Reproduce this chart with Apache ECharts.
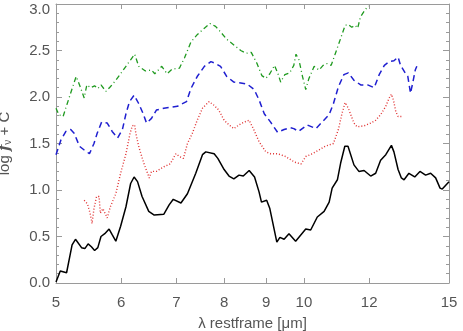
<!DOCTYPE html>
<html>
<head>
<meta charset="utf-8">
<script src="https://cdn.jsdelivr.net/npm/echarts@6/dist/echarts.min.js"></script>
<style>
  html, body { margin: 0; padding: 0; background: #fff; }
  #chart { width: 463px; height: 331px; }
</style>
</head>
<body>
<div id="chart"></div>
<script>
// tick labels
const xTicks = [5, 6, 7, 8, 9, 10, 12, 15];

// solid black
const blackLam = [5.00,5.06,5.15,5.23,5.28,5.37,5.42,5.47,5.52,5.57,5.62,5.67,5.73,5.80,5.85,5.91,5.99,6.08,6.16,6.22,6.28,6.36,6.48,6.58,6.76,6.86,6.94,7.09,7.22,7.39,7.53,7.60,7.78,7.86,8.00,8.11,8.22,8.34,8.44,8.58,8.71,8.82,8.88,9.01,9.09,9.27,9.35,9.46,9.59,9.77,9.82,10.05,10.19,10.38,10.58,10.73,10.82,10.98,11.08,11.21,11.31,11.50,11.66,11.83,12.05,12.22,12.39,12.57,12.77,12.86,13.01,13.13,13.23,13.41,13.63,13.83,14.05,14.25,14.45,14.63,14.72,15.00];
const blackVal = [0.01,0.13,0.11,0.41,0.47,0.38,0.37,0.42,0.39,0.35,0.38,0.50,0.53,0.58,0.52,0.45,0.61,0.82,1.07,1.14,1.09,0.93,0.77,0.73,0.74,0.84,0.90,0.86,0.96,1.18,1.38,1.41,1.39,1.34,1.22,1.15,1.12,1.16,1.15,1.21,1.14,0.98,0.87,0.89,0.80,0.44,0.49,0.47,0.53,0.45,0.46,0.58,0.57,0.71,0.77,0.87,1.02,1.11,1.29,1.47,1.47,1.27,1.20,1.21,1.15,1.18,1.32,1.38,1.48,1.41,1.22,1.13,1.11,1.18,1.14,1.20,1.16,1.18,1.13,1.02,1.01,1.09];

// dotted red
const redLam = [5.41,5.46,5.50,5.53,5.56,5.60,5.64,5.66,5.70,5.77,5.82,5.91,5.99,6.08,6.15,6.19,6.23,6.25,6.30,6.39,6.49,6.53,6.62,6.76,6.88,6.99,7.06,7.14,7.22,7.32,7.42,7.53,7.67,7.78,7.88,8.00,8.11,8.22,8.34,8.46,8.58,8.69,8.82,8.99,9.11,9.29,9.50,9.74,9.92,10.05,10.24,10.43,10.61,10.86,11.01,11.12,11.22,11.32,11.50,11.60,11.83,12.05,12.22,12.39,12.57,12.69,12.77,12.84,12.93,13.01,13.13];
const redVal = [0.89,0.85,0.75,0.64,0.80,0.93,0.93,0.75,0.80,0.70,0.82,0.96,1.18,1.39,1.61,1.69,1.70,1.61,1.47,1.29,1.13,1.20,1.20,1.25,1.28,1.39,1.36,1.34,1.50,1.61,1.75,1.88,1.95,1.91,1.86,1.75,1.70,1.66,1.70,1.73,1.75,1.65,1.52,1.41,1.39,1.39,1.36,1.30,1.28,1.36,1.39,1.43,1.47,1.50,1.65,1.82,1.94,1.88,1.72,1.68,1.69,1.72,1.75,1.81,1.90,1.99,2.03,1.97,1.84,1.79,1.79];

// dashed blue
const blueLam = [5.00,5.07,5.14,5.21,5.26,5.34,5.41,5.49,5.56,5.61,5.68,5.77,5.85,5.94,6.02,6.08,6.14,6.22,6.30,6.38,6.44,6.53,6.62,6.76,6.89,7.02,7.20,7.29,7.42,7.57,7.71,7.81,7.92,8.06,8.22,8.38,8.53,8.70,8.82,8.95,9.11,9.29,9.46,9.63,9.72,9.85,10.09,10.34,10.52,10.73,10.86,11.01,11.18,11.32,11.50,11.72,11.95,12.17,12.34,12.52,12.69,12.86,13.01,13.10,13.29,13.37,13.47,13.56,13.65,13.71];
const blueVal = [1.38,1.54,1.63,1.65,1.61,1.47,1.43,1.39,1.50,1.61,1.73,1.72,1.63,1.56,1.65,1.82,1.95,2.02,1.93,1.82,1.72,1.77,1.86,1.88,1.89,1.90,1.95,2.09,2.22,2.33,2.38,2.36,2.33,2.22,2.16,2.15,2.14,2.08,1.97,1.82,1.73,1.62,1.65,1.67,1.66,1.63,1.70,1.66,1.73,1.81,1.93,2.11,2.24,2.26,2.18,2.13,2.13,2.10,2.24,2.34,2.38,2.39,2.43,2.34,2.25,2.22,2.04,2.16,2.29,2.33];

// dash-dot green
const greenLam = [5.00,5.04,5.10,5.16,5.23,5.29,5.34,5.41,5.45,5.51,5.57,5.62,5.67,5.75,5.82,5.91,5.99,6.08,6.16,6.23,6.30,6.42,6.53,6.59,6.72,6.82,6.92,7.06,7.16,7.29,7.42,7.57,7.69,7.81,7.92,8.06,8.22,8.38,8.51,8.63,8.77,8.89,8.99,9.09,9.21,9.30,9.37,9.48,9.61,9.72,9.78,9.86,9.96,10.05,10.14,10.29,10.43,10.55,10.67,10.79,10.92,11.08,11.22,11.32,11.43,11.54,11.62,11.71,11.87,11.98];
const greenVal = [1.88,1.81,1.79,1.93,2.09,2.22,2.13,1.99,2.13,2.10,2.12,2.09,2.13,2.06,2.11,2.18,2.25,2.33,2.40,2.46,2.33,2.28,2.29,2.25,2.33,2.25,2.30,2.31,2.42,2.59,2.67,2.74,2.79,2.76,2.70,2.62,2.56,2.50,2.47,2.48,2.36,2.23,2.20,2.25,2.34,2.25,2.16,2.24,2.26,2.34,2.46,2.40,2.22,2.08,2.20,2.33,2.29,2.34,2.36,2.34,2.47,2.63,2.77,2.78,2.75,2.77,2.74,2.86,2.94,2.98];

const zip = (xs, ys) => xs.map((x, i) => [x, ys[i]]);

const frame = '#9a9a9a';
const textColor = '#555';
const font = 'Liberation Sans';

const xAxisBase = {
    type: 'log',
    logBase: 10,
    min: 5,
    max: 15,
    axisLine: { onZero: false, lineStyle: { color: frame } },
    axisTick: { inside: true, length: 5, customValues: xTicks, lineStyle: { color: frame } },
    minorTick: { show: false },
    splitLine: { show: false },
};

const yAxisBase = {
    type: 'value',
    min: 0,
    max: 3,
    interval: 0.5,
    axisLine: { show: true, onZero: false, lineStyle: { color: frame } },
    axisTick: { inside: true, length: 6, lineStyle: { color: frame } },
    minorTick: { show: true, splitNumber: 5, length: 3, lineStyle: { color: frame } },
    splitLine: { show: false },
    minorSplitLine: { show: false },
};

const myChart = echarts.init(document.getElementById('chart'));

const option = {
    animation: false,
    grid: { left: 56, right: 14, top: 4, bottom: 48, containLabel: false, outerBoundsMode: 'none' },
    xAxis: [
        Object.assign({}, xAxisBase, {
            position: 'bottom',
            axisLabel: {
                customValues: xTicks,
                color: textColor,
                fontFamily: font,
                fontSize: 15,
                margin: 12,
                formatter: v => String(Math.round(v))
            },
            name: 'λ restframe [μm]',
            nameLocation: 'middle',
            nameGap: 33,
            nameTextStyle: { color: textColor, fontFamily: font, fontSize: 15 }
        }),
        Object.assign({}, xAxisBase, {
            position: 'top',
            axisLabel: { show: false }
        })
    ],
    yAxis: [
        Object.assign({}, yAxisBase, {
            position: 'left',
            axisLabel: {
                color: textColor,
                fontFamily: font,
                fontSize: 15,
                margin: 6,
                // top label sits just below the frame, as in the original
                formatter: v => v === 3 ? '{t|3.0}' : v.toFixed(1),
                rich: {
                    t: { color: textColor, fontFamily: font, fontSize: 15, padding: [12, 0, 0, 0] }
                }
            },
            name: '{a|log }{f|f}{s|ν}{a| + C}',
            nameLocation: 'middle',
            nameGap: 43,
            nameTextStyle: {
                rich: {
                    a: { color: textColor, fontFamily: font, fontSize: 15 },
                    f: { color: textColor, fontFamily: 'DejaVu Serif', fontSize: 15, fontStyle: 'italic', fontWeight: 'bold' },
                    s: { color: textColor, fontFamily: font, fontSize: 10, verticalAlign: 'bottom', padding: [6, 0, 0, 0] }
                }
            }
        }),
        Object.assign({}, yAxisBase, {
            position: 'right',
            axisLabel: { show: false }
        })
    ],
    series: [
        {
            type: 'line', data: zip(blackLam, blackVal), showSymbol: false,
            lineStyle: { color: '#000', width: 1.5 }
        },
        {
            type: 'line', data: zip(redLam, redVal), showSymbol: false,
            lineStyle: { color: '#e03030', width: 1.4, type: [1, 2] }
        },
        {
            type: 'line', data: zip(blueLam, blueVal), showSymbol: false,
            lineStyle: { color: '#1f1fd0', width: 1.5, type: [6, 4] }
        },
        {
            type: 'line', data: zip(greenLam, greenVal), showSymbol: false,
            lineStyle: { color: '#1f9a1f', width: 1.3, type: [5, 3, 1, 3] }
        }
    ]
};

myChart.setOption(option);
</script>
</body>
</html>
